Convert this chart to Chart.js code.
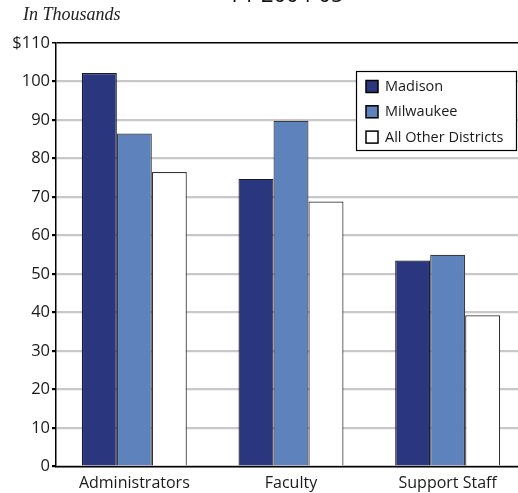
<!DOCTYPE html>
<html>
<head>
<meta charset="utf-8">
<script src="https://cdn.jsdelivr.net/npm/chart.js@4/dist/chart.umd.min.js"></script>
<style>
  html, body { margin: 0; padding: 0; background: #fff; overflow: hidden; width: 518px; height: 493px; }
  #wrap { position: absolute; left: 0; top: 0; width: 530px; height: 493px; }
  #title { position: absolute; left: 0; width: 575px; text-align: center; top: -22px; font: 22px "Open Sans", sans-serif; color: #111; }
  #unit { position: absolute; left: 23px; top: 4px; font: italic 18px "Liberation Serif", serif; color: #222; }
</style>
</head>
<body>
<div id="wrap"><canvas id="chart"></canvas></div>
<div id="title">FY 2004-05</div>
<div id="unit">In Thousands</div>
<script>
const categories = ["Administrators", "Faculty", "Support Staff"];
const seriesNames = ["Madison", "Milwaukee", "All Other Districts"];
const madison = [102.2, 74.7, 53.5];
const milwaukee = [86.5, 89.8, 55.0];
const otherDistricts = [76.5, 68.8, 39.3];
const yTicks = [0, 10, 20, 30, 40, 50, 60, 70, 80, 90, 100, 110];

const fills = ["#2a377e", "#5e82bb", "#ffffff"];
const edges = ["#1a1a2a", "#3a3a40", "#333333"];

// legend box drawn inside the plot, top right
const boxLegend = {
  id: "boxLegend",
  afterDatasetsDraw(chart) {
    const ctx = chart.ctx;
    ctx.save();
    ctx.fillStyle = "#fff";
    ctx.fillRect(356.5, 71.5, 160, 79);
    ctx.strokeStyle = "#000";
    ctx.lineWidth = 1.2;
    ctx.strokeRect(356.5, 71.5, 160, 79);
    ctx.font = "14.5px 'Open Sans', sans-serif";
    ctx.textBaseline = "middle";
    chart.data.datasets.forEach((ds, i) => {
      const y = 86.5 + i * 25.3;
      ctx.fillStyle = ds.backgroundColor;
      ctx.fillRect(366, y - 6, 12, 12);
      ctx.strokeStyle = "#000";
      ctx.lineWidth = 1.5;
      ctx.strokeRect(366, y - 6, 12, 12);
      ctx.fillStyle = "#1a1a1a";
      ctx.fillText(ds.label, 385, y + 0.5);
    });
    ctx.restore();
  }
};

new Chart(document.getElementById("chart"), {
  type: "bar",
  data: {
    labels: categories,
    datasets: [madison, milwaukee, otherDistricts].map((vals, i) => ({
      label: seriesNames[i],
      data: vals,
      backgroundColor: fills[i],
      borderColor: edges[i],
      borderWidth: 1.2,
      borderSkipped: "bottom",
      categoryPercentage: 0.67,
      barPercentage: 1.0
    }))
  },
  options: {
    responsive: true,
    maintainAspectRatio: false,
    animation: false,
    layout: { padding: { top: 43, right: 4, left: 0, bottom: 0 } },
    plugins: { legend: { display: false }, tooltip: { enabled: false } },
    scales: {
      x: {
        afterFit: (s) => { s.height = 26.5; },
        grid: { display: false, drawTicks: false },
        border: { display: true, color: "#000", width: 1.5 },
        ticks: { padding: 7, color: "#1a1a1a", font: { family: "'Open Sans', sans-serif", size: 16 } }
      },
      y: {
        min: 0,
        max: 110,
        afterFit: (s) => { s.width = 56; },
        afterBuildTicks: (s) => { s.ticks = yTicks.map((v) => ({ value: v })); },
        grid: {
          color: (c) => (c.tick && c.tick.value === 110 ? "#000" : "#c8c8c8"),
          lineWidth: (c) => (c.tick && c.tick.value === 110 ? 1.5 : 2.2),
          tickColor: "#000",
          tickLength: 4,
          drawOnChartArea: true
        },
        border: { display: true, color: "#000", width: 1.5 },
        ticks: {
          padding: 2,
          color: "#1a1a1a",
          font: { family: "'Open Sans', sans-serif", size: 16.5 },
          callback: (v) => (v === 110 ? "$110" : String(v))
        }
      }
    }
  },
  plugins: [boxLegend]
});
</script>
</body>
</html>
